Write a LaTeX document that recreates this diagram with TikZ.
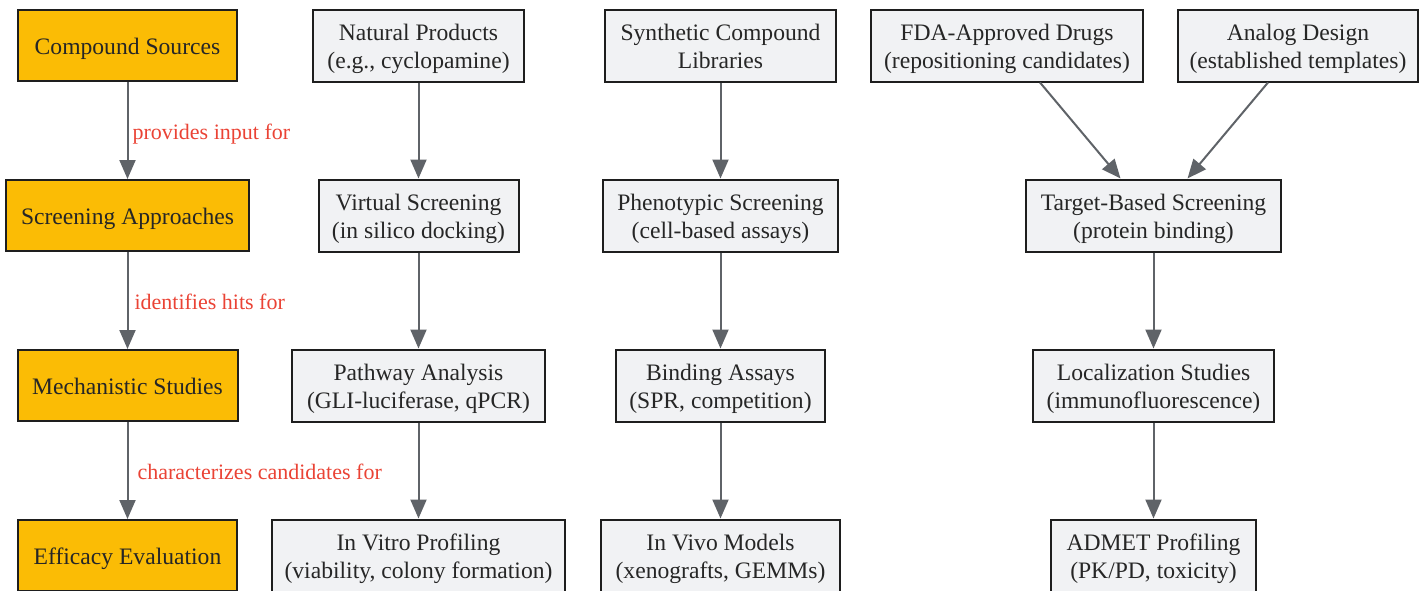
\documentclass[tikz,border=0pt]{standalone}
\usepackage{fontspec}
\setmainfont{Liberation Serif}
\usetikzlibrary{arrows.meta,calc}
\definecolor{orangefill}{HTML}{FBBC05}
\definecolor{grayfill}{HTML}{F1F2F4}
\definecolor{boxline}{HTML}{1E1E1E}
\definecolor{arrowgray}{HTML}{5F6368}
\definecolor{labelred}{HTML}{EA4335}
\definecolor{txt}{HTML}{262626}
\newcommand{\tstr}{\rule{0pt}{23.4pt}}
\newcommand{\dstr}{\rule[-5.1pt]{0pt}{5.1pt}}
\newcommand{\lstr}{\rule[-4.8pt]{0pt}{21pt}}
\begin{document}
\begin{tikzpicture}[x=1pt,y=-1pt,
  base/.style={draw=boxline, line width=2pt, align=center, inner sep=0pt,
    text=txt, font=\fontsize{23.6}{28.4}\selectfont, minimum height=71pt},
  phase/.style={base, fill=orangefill},
  item/.style={base, fill=grayfill, minimum height=72pt},
  arr/.style={draw=arrowgray, line width=2pt, -{Triangle[length=19pt,width=16pt]}},
  lbl/.style={text=labelred, font=\fontsize{22}{26}\selectfont, inner sep=0pt, yshift=-3pt}
]
\useasboundingbox (0,0) rectangle (1428,590);

% left column
\node[phase, minimum width=219pt] (cs) at (127.5,45.5) {\tstr Compound Sources\dstr};
\node[phase, minimum width=243pt] (sa) at (127.5,215.5) {\tstr Screening Approaches\dstr};
\node[phase, minimum width=220pt] (ms) at (127.5,385.5) {\tstr Mechanistic Studies\dstr};
\node[phase, minimum width=219pt] (ee) at (127.5,555.5) {\tstr Efficacy Evaluation\dstr};

% column 2
\node[item, minimum width=211pt] (np) at (418.5,45.5) {\tstr Natural Products\\(e.g., cyclopamine)\dstr};
\node[item, minimum width=200pt] (vs) at (418.5,215.5) {\tstr Virtual Screening\\(in silico docking)\dstr};
\node[item, minimum width=253pt] (pa) at (418.5,385.5) {\tstr Pathway Analysis\\(GLI-luciferase, qPCR)\dstr};
\node[item, minimum width=293pt] (iv) at (418.5,555.5) {\tstr In Vitro Profiling\\(viability, colony formation)\dstr};

% column 3
\node[item, minimum width=231pt] (sc) at (720.5,45.5) {\tstr Synthetic Compound\\Libraries\dstr};
\node[item, minimum width=235pt] (ps) at (720.5,215.5) {\tstr Phenotypic Screening\\(cell-based assays)\dstr};
\node[item, minimum width=209pt] (ba) at (720.5,385.5) {\tstr Binding Assays\\(SPR, competition)\dstr};
\node[item, minimum width=239pt] (im) at (720.5,555.5) {\tstr In Vivo Models\\(xenografts, GEMMs)\dstr};

% column 4
\node[item, minimum width=272pt] (fda) at (1007,45.5) {\tstr FDA-Approved Drugs\\(repositioning candidates)\dstr};
\node[item, minimum width=240pt] (ad) at (1298,45.5) {\tstr Analog Design\\(established templates)\dstr};
\node[item, minimum width=255pt] (tb) at (1153.5,215.5) {\tstr Target-Based Screening\\(protein binding)\dstr};
\node[item, minimum width=241pt] (ls) at (1153.5,385.5) {\tstr Localization Studies\\(immunofluorescence)\dstr};
\node[item, minimum width=205pt] (ap) at (1153.5,555.5) {\tstr ADMET Profiling\\(PK/PD, toxicity)\dstr};

% left column arrows with labels
\draw[arr] (cs) -- (sa) node[lbl, midway, right=4pt] {\lstr provides input for};
\draw[arr] (sa) -- (ms) node[lbl, midway, right=6pt] {\lstr identifies hits for};
\draw[arr] (ms) -- (ee) node[lbl, midway, right=9pt] {\lstr characterizes candidates for};

% column arrows
\draw[arr] (np) -- (vs);
\draw[arr] (vs) -- (pa);
\draw[arr] (pa) -- (iv);
\draw[arr] (sc) -- (ps);
\draw[arr] (ps) -- (ba);
\draw[arr] (ba) -- (im);
\draw[arr] ([xshift=33pt]fda.south) -- ([xshift=-33pt]tb.north);
\draw[arr] ([xshift=-30pt]ad.south) -- ([xshift=34pt]tb.north);
\draw[arr] (tb) -- (ls);
\draw[arr] (ls) -- (ap);
\end{tikzpicture}
\end{document}
